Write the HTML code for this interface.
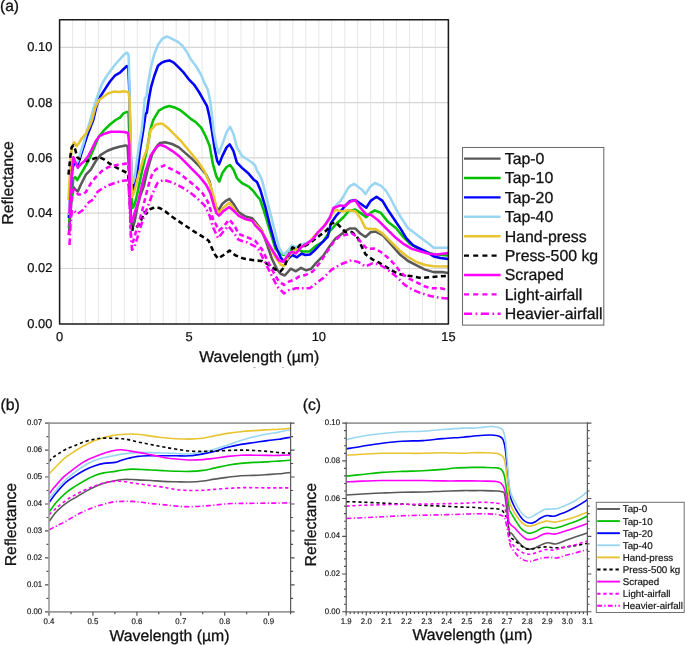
<!DOCTYPE html>
<html><head><meta charset="utf-8"><title>Reflectance spectra</title>
<style>
html,body{margin:0;padding:0;background:#fff;}
body{width:685px;height:645px;overflow:hidden;}
svg{display:block;font-family:"Liberation Sans", sans-serif;} text{fill:#111;stroke:#111;}
svg{will-change:transform;text-rendering:geometricPrecision;}
</style></head><body>
<svg width="685" height="645" viewBox="0 0 685 645">
<defs>
<clipPath id="clipa"><rect x="59.6" y="19.8" width="388.8" height="304"/></clipPath>
<clipPath id="clipb"><rect x="49" y="423" width="241.6" height="189"/></clipPath>
<clipPath id="clipc"><rect x="346.2" y="423" width="241.2" height="189"/></clipPath>
</defs>
<path d="M72.5 19.8 V323.9 M85.4 19.8 V323.9 M98.4 19.8 V323.9 M111.4 19.8 V323.9 M124.3 19.8 V323.9 M137.3 19.8 V323.9 M150.2 19.8 V323.9 M163.2 19.8 V323.9 M176.2 19.8 V323.9 M189.1 19.8 V323.9 M202.1 19.8 V323.9 M215.1 19.8 V323.9 M228.0 19.8 V323.9 M241.0 19.8 V323.9 M253.9 19.8 V323.9 M266.9 19.8 V323.9 M279.9 19.8 V323.9 M292.8 19.8 V323.9 M305.8 19.8 V323.9 M318.8 19.8 V323.9 M331.7 19.8 V323.9 M344.7 19.8 V323.9 M357.7 19.8 V323.9 M370.6 19.8 V323.9 M383.6 19.8 V323.9 M396.5 19.8 V323.9 M409.5 19.8 V323.9 M422.5 19.8 V323.9 M435.4 19.8 V323.9" stroke="#e9e9e9" stroke-width="1.1" fill="none"/>
<path d="M59.6 268.5 H448.4 M59.6 213.2 H448.4 M59.6 157.9 H448.4 M59.6 102.6 H448.4 M59.6 47.3 H448.4" stroke="#d6d6d6" stroke-width="1.2" fill="none"/>
<g clip-path="url(#clipa)"><path d="M68.8 235.0 L71.0 205.0 L73.4 187.0 L75.3 189.5 L77.8 191.4 L80.9 184.5 L85.9 174.6 L90.8 169.6 L95.8 161.0 L100.8 154.8 L107.0 151.0 L113.2 148.5 L119.4 146.7 L125.6 145.4 L127.6 146.0 L129.0 170.0 L130.5 210.0 L132.0 229.6 L134.5 222.0 L137.5 206.4 L140.5 195.0 L143.7 186.6 L148.0 167.9 L152.2 154.2 L157.3 145.7 L160.0 143.0 L165.2 142.3 L172.1 144.0 L178.9 147.4 L185.7 153.4 L192.5 159.3 L199.3 166.2 L206.2 174.7 L209.6 181.5 L213.0 196.9 L216.4 207.9 L218.4 210.5 L222.4 203.7 L226.6 200.3 L229.5 198.9 L233.4 203.7 L238.6 212.2 L245.4 216.5 L252.2 218.2 L255.0 221.6 L261.8 230.3 L266.9 244.0 L272.1 259.3 L277.2 269.6 L280.6 273.8 L284.8 275.5 L290.8 268.7 L295.9 271.3 L301.0 267.9 L306.2 270.4 L311.3 268.7 L316.4 262.7 L323.2 255.9 L330.0 245.7 L335.1 238.9 L342.0 233.8 L345.0 231.0 L350.1 228.4 L355.2 228.4 L360.3 233.5 L365.5 237.0 L370.6 232.3 L375.7 231.5 L382.5 235.0 L391.0 244.5 L399.6 254.2 L408.1 261.0 L416.6 265.3 L425.1 269.6 L433.7 272.1 L442.2 272.1 L448.2 273.0" fill="none" stroke="#595959" stroke-width="2.55" stroke-linejoin="round" stroke-linecap="butt" />
<path d="M68.8 228.0 L71.0 200.0 L73.4 178.3 L75.3 177.1 L77.2 180.2 L79.7 175.9 L83.4 169.6 L88.3 161.0 L93.3 149.8 L98.3 137.4 L103.2 131.2 L109.4 125.0 L115.6 120.0 L120.0 117.6 L123.1 113.7 L127.0 111.9 L128.5 112.5 L129.5 140.0 L131.0 190.0 L132.5 208.0 L134.5 205.0 L137.0 195.0 L142.0 171.3 L147.1 149.1 L150.2 130.0 L153.3 119.9 L158.8 110.6 L164.2 107.5 L169.3 106.0 L175.5 107.8 L180.6 110.4 L185.7 114.6 L190.8 118.9 L195.9 122.3 L201.0 127.4 L205.3 135.5 L209.6 145.7 L213.0 164.5 L216.4 176.4 L219.3 181.5 L222.4 173.0 L226.6 167.0 L230.0 165.0 L233.4 169.6 L236.9 178.1 L242.0 183.2 L248.8 186.6 L253.9 191.7 L257.0 196.0 L260.1 199.5 L265.2 214.8 L270.3 231.9 L275.5 248.9 L279.7 253.2 L284.0 255.0 L289.1 250.0 L295.9 248.9 L302.7 251.5 L309.6 251.5 L316.4 245.5 L323.2 241.5 L330.0 231.0 L336.9 223.3 L343.7 217.0 L348.4 211.2 L355.2 209.5 L360.3 212.9 L366.3 217.1 L370.6 212.9 L374.8 210.3 L380.8 212.9 L387.6 221.4 L396.2 228.2 L403.0 236.7 L409.8 243.6 L418.3 248.7 L426.9 252.1 L435.4 254.6 L448.2 255.5" fill="none" stroke="#00c000" stroke-width="2.55" stroke-linejoin="round" stroke-linecap="butt" />
<path d="M68.8 218.0 L70.5 192.0 L72.5 168.0 L74.7 162.2 L77.8 164.1 L80.3 157.2 L83.4 147.3 L87.1 136.1 L90.8 126.2 L93.3 120.0 L96.5 106.3 L100.0 97.0 L105.5 88.4 L110.0 81.5 L115.2 75.3 L120.0 72.6 L123.1 69.5 L127.0 66.0 L128.3 67.0 L129.3 90.0 L130.5 150.0 L131.8 180.0 L132.8 189.4 L134.5 186.0 L137.0 175.0 L140.0 150.0 L143.3 130.0 L145.6 113.7 L146.8 113.0 L148.7 99.8 L151.0 87.4 L154.1 76.5 L158.0 65.7 L161.9 62.6 L165.2 61.3 L169.5 60.4 L173.8 62.6 L178.9 67.7 L184.0 72.9 L189.1 79.7 L194.2 84.8 L199.3 92.5 L203.6 100.1 L207.0 106.1 L209.6 117.2 L212.1 132.0 L214.7 149.1 L217.2 161.0 L219.0 164.5 L222.4 155.9 L226.6 147.4 L229.7 144.3 L233.4 150.8 L236.9 162.7 L242.0 167.9 L248.8 173.8 L253.9 179.8 L257.0 182.0 L260.1 189.2 L265.2 206.3 L270.3 226.7 L275.5 245.5 L280.6 257.5 L285.3 263.0 L288.6 258.3 L292.3 255.0 L297.0 257.3 L301.6 253.6 L305.3 255.0 L310.0 254.5 L313.7 251.3 L320.2 244.3 L327.7 236.9 L330.9 223.3 L336.9 214.8 L342.0 209.7 L345.0 206.0 L350.1 200.9 L355.2 200.1 L360.3 203.5 L366.3 207.7 L370.6 200.9 L376.5 196.7 L382.5 200.9 L387.6 209.5 L394.5 219.7 L401.3 229.9 L406.4 238.4 L413.2 245.3 L420.0 248.7 L426.9 252.1 L433.7 256.4 L440.5 258.1 L448.2 258.9" fill="none" stroke="#0000ff" stroke-width="2.55" stroke-linejoin="round" stroke-linecap="butt" />
<path d="M68.8 215.0 L70.2 190.0 L72.0 165.0 L74.0 160.0 L76.5 163.0 L78.5 160.0 L80.3 153.5 L83.4 143.6 L86.5 132.4 L89.6 122.5 L94.1 106.3 L98.0 94.5 L102.2 83.5 L107.0 75.5 L112.0 68.8 L116.0 63.5 L119.3 59.9 L123.9 54.8 L127.0 52.5 L128.5 55.0 L129.3 76.0 L130.3 130.0 L131.5 170.0 L132.8 183.0 L134.5 178.0 L137.0 160.0 L140.0 140.0 L141.7 130.0 L143.3 115.3 L144.8 98.2 L146.4 96.7 L147.9 84.3 L151.0 67.2 L154.1 54.8 L158.0 44.7 L162.6 38.5 L167.0 36.5 L172.1 38.8 L177.2 41.3 L182.3 45.6 L186.5 51.5 L190.8 59.2 L195.9 66.0 L201.0 74.6 L204.5 83.1 L207.9 89.9 L210.4 101.9 L212.1 117.2 L213.8 132.0 L216.4 145.7 L219.0 153.4 L222.4 144.0 L226.6 132.1 L230.0 126.9 L233.4 133.8 L236.9 147.4 L242.0 155.9 L247.1 159.3 L252.2 162.7 L255.0 165.3 L257.3 171.3 L260.1 175.6 L262.4 181.5 L265.2 192.6 L270.3 213.1 L275.5 233.6 L278.9 247.2 L282.3 253.2 L284.8 254.0 L288.3 250.6 L291.7 245.5 L295.9 247.2 L301.0 244.6 L306.2 242.9 L311.3 240.4 L316.4 235.3 L323.2 228.4 L330.0 216.5 L335.1 206.3 L340.3 201.2 L343.7 196.0 L347.9 188.4 L350.1 186.0 L354.4 183.9 L358.6 187.3 L362.1 189.8 L365.5 194.1 L369.7 187.3 L374.8 183.0 L380.8 185.6 L385.9 190.7 L391.0 199.2 L396.2 209.5 L401.3 218.0 L408.1 228.2 L414.9 233.3 L421.7 238.4 L428.6 243.6 L433.7 247.8 L440.5 247.8 L448.2 247.8" fill="none" stroke="#99d6f2" stroke-width="2.55" stroke-linejoin="round" stroke-linecap="butt" />
<path d="M68.5 200.0 L69.5 180.0 L71.0 155.0 L72.2 146.1 L74.1 142.3 L76.5 146.1 L79.0 143.0 L82.1 138.0 L85.9 133.7 L89.6 126.2 L92.1 120.0 L95.7 106.3 L99.0 100.0 L103.8 96.5 L108.0 93.5 L113.6 91.6 L120.0 92.0 L123.1 91.2 L128.5 92.0 L129.6 100.0 L130.5 150.0 L131.5 185.0 L132.0 197.0 L134.0 193.0 L136.0 185.0 L138.6 174.7 L143.7 157.6 L147.1 149.1 L150.5 130.3 L155.7 124.6 L161.1 123.5 L163.5 124.4 L168.6 128.6 L173.8 133.8 L180.6 140.6 L189.1 150.8 L197.6 161.0 L204.5 171.3 L209.6 183.2 L213.8 196.9 L217.2 210.5 L219.0 213.1 L223.2 207.9 L229.2 202.8 L233.4 207.9 L238.6 215.6 L245.4 219.0 L252.2 220.7 L255.0 223.5 L261.8 231.0 L268.6 244.0 L275.5 257.6 L280.6 264.5 L284.0 266.2 L289.1 255.9 L294.2 250.8 L301.0 247.4 L307.9 244.0 L314.7 235.5 L323.2 227.5 L330.0 218.0 L335.1 209.7 L342.0 211.4 L348.4 210.3 L355.2 211.2 L360.3 218.0 L365.5 228.2 L370.6 229.1 L375.7 229.1 L382.5 233.3 L391.0 241.9 L399.6 250.4 L408.1 257.2 L416.6 262.0 L425.1 265.0 L433.7 266.2 L448.2 266.4" fill="none" stroke="#e8c430" stroke-width="2.55" stroke-linejoin="round" stroke-linecap="butt" />
<path d="M68.5 174.6 L70.3 157.2 L71.6 147.3 L73.4 145.4 L75.3 149.8 L77.2 157.2 L79.7 159.1 L83.4 159.7 L87.1 161.0 L90.8 159.7 L95.8 157.9 L99.5 157.2 L104.5 159.7 L109.4 163.4 L115.6 167.2 L121.9 170.3 L126.8 172.7 L128.1 174.6 L129.5 195.0 L131.0 220.0 L132.8 229.6 L135.5 228.0 L139.2 224.5 L142.0 218.0 L144.5 212.0 L146.5 213.5 L149.4 209.5 L153.1 208.0 L156.8 207.1 L160.6 208.5 L165.2 211.3 L172.1 216.8 L182.3 223.6 L192.5 230.5 L201.0 235.6 L208.7 240.7 L211.3 246.7 L214.7 254.3 L218.1 258.6 L223.2 255.2 L229.5 250.6 L235.2 255.2 L243.7 258.6 L253.9 260.3 L261.8 261.0 L268.6 264.5 L275.5 269.6 L280.6 271.3 L284.8 266.2 L288.3 255.9 L292.5 247.4 L296.8 249.1 L300.2 244.8 L305.0 246.0 L313.0 240.6 L319.8 235.5 L326.6 230.3 L331.7 223.5 L336.0 222.5 L340.3 226.9 L345.4 232.1 L351.8 232.1 L356.9 236.3 L362.1 247.4 L365.5 254.2 L372.3 259.3 L379.1 262.7 L387.6 267.9 L396.2 273.0 L404.7 275.5 L413.2 276.4 L421.7 278.1 L430.3 277.2 L438.8 276.4 L448.2 276.0" fill="none" stroke="#000000" stroke-width="2.55" stroke-linejoin="round" stroke-linecap="butt" stroke-dasharray="5 3.4"/>
<path d="M69.4 213.7 L70.5 195.0 L71.6 175.9 L73.4 157.2 L75.3 162.2 L77.8 167.8 L80.9 164.1 L84.6 161.0 L88.3 156.0 L92.1 148.5 L95.8 141.1 L99.5 136.1 L104.5 133.7 L110.7 131.8 L118.1 131.8 L124.3 132.0 L128.1 133.0 L129.3 145.0 L129.9 200.0 L130.5 217.0 L132.0 222.0 L134.0 215.0 L138.6 200.3 L142.0 185.0 L145.4 171.3 L150.5 155.9 L155.0 149.1 L157.3 146.5 L160.1 144.8 L165.2 146.5 L172.1 150.8 L178.9 155.9 L185.7 162.7 L192.5 169.6 L199.3 176.4 L206.2 184.9 L210.4 193.4 L213.8 205.4 L216.4 213.1 L219.0 215.6 L223.2 211.3 L229.2 207.1 L233.4 210.5 L238.6 215.6 L245.4 219.0 L252.2 220.7 L255.0 225.2 L261.8 232.1 L268.6 244.0 L273.8 252.5 L278.9 260.2 L283.1 261.9 L287.4 255.9 L291.7 251.7 L295.9 253.4 L301.0 247.4 L307.9 242.9 L313.0 238.9 L318.1 232.1 L324.9 225.2 L330.0 217.5 L333.4 208.0 L340.3 205.4 L345.0 206.0 L350.1 201.8 L355.2 200.1 L360.3 207.7 L366.3 214.6 L370.6 214.6 L377.4 219.7 L385.9 228.2 L394.5 236.7 L403.0 243.6 L411.5 248.7 L420.0 251.2 L428.6 253.8 L437.1 254.6 L448.2 252.9" fill="none" stroke="#ff00ff" stroke-width="2.55" stroke-linejoin="round" stroke-linecap="butt" />
<path d="M69.0 235.0 L71.0 205.0 L73.4 189.5 L75.9 192.0 L78.4 194.5 L82.1 194.5 L85.9 192.0 L90.8 183.3 L95.8 177.1 L102.0 170.9 L108.2 167.2 L115.6 165.3 L123.1 164.1 L128.1 163.4 L129.5 185.0 L130.5 225.0 L131.3 240.4 L133.0 242.0 L137.5 226.5 L142.1 211.0 L146.7 192.0 L150.0 180.0 L153.0 172.0 L159.0 167.0 L162.7 166.2 L164.1 165.3 L170.3 168.7 L178.9 173.0 L187.4 179.8 L195.9 186.6 L202.7 193.4 L207.9 202.0 L211.3 212.2 L213.8 222.4 L215.5 223.6 L219.0 230.5 L223.2 227.1 L229.2 219.4 L234.3 225.3 L238.6 233.9 L247.1 237.3 L255.0 240.6 L261.8 249.1 L268.6 262.7 L273.8 273.0 L278.9 281.5 L284.0 284.9 L289.1 281.5 L294.2 279.8 L299.3 276.4 L306.2 274.7 L313.0 271.3 L319.8 262.7 L326.6 252.5 L333.4 242.3 L340.3 235.5 L345.0 235.0 L351.8 233.5 L356.9 236.5 L362.1 243.8 L367.2 248.9 L374.0 248.5 L380.8 251.9 L387.6 257.4 L394.5 264.3 L401.3 273.0 L408.1 278.1 L416.6 282.4 L425.1 286.6 L432.0 288.3 L440.5 288.3 L448.2 290.0" fill="none" stroke="#ff00ff" stroke-width="2.55" stroke-linejoin="round" stroke-linecap="butt" stroke-dasharray="5 3.4"/>
<path d="M69.5 245.0 L70.5 225.0 L72.0 210.0 L73.8 210.5 L77.2 213.9 L82.3 210.5 L89.1 202.0 L93.3 199.4 L97.6 191.7 L100.8 189.5 L107.0 185.8 L115.6 182.7 L123.1 180.8 L128.1 180.2 L129.5 200.0 L130.8 235.0 L132.0 249.7 L134.0 248.0 L137.5 237.3 L143.7 217.0 L149.1 203.3 L152.0 195.0 L157.3 183.2 L163.5 179.8 L172.1 182.4 L180.6 186.6 L189.1 191.7 L197.6 198.6 L204.5 205.4 L209.6 215.6 L213.0 227.1 L218.1 238.1 L223.0 232.0 L228.3 226.2 L233.4 232.2 L238.6 239.8 L247.1 242.4 L255.6 246.7 L258.4 249.1 L265.2 262.7 L272.1 276.4 L277.2 286.6 L284.0 293.4 L289.1 290.0 L295.9 288.3 L302.7 288.3 L309.6 288.3 L316.4 283.2 L323.2 278.1 L331.7 269.6 L340.3 264.5 L347.1 261.9 L351.8 260.2 L358.6 262.2 L365.5 266.5 L372.3 263.4 L379.1 264.3 L387.6 269.6 L396.2 276.4 L404.7 284.9 L413.2 290.0 L421.7 293.4 L430.3 296.0 L438.8 297.7 L448.2 298.6" fill="none" stroke="#ff00ff" stroke-width="2.55" stroke-linejoin="round" stroke-linecap="butt" stroke-dasharray="6.6 3 1.6 3"/></g>
<rect x="59.6" y="19.8" width="388.8" height="304.1" fill="none" stroke="#1a1a1a" stroke-width="1.55" stroke-linejoin="round"/>
<text x="52.4" y="327.7" font-size="12.90" text-anchor="end" stroke-width="0.24" >0.00</text>
<text x="52.4" y="272.4" font-size="12.90" text-anchor="end" stroke-width="0.24" >0.02</text>
<text x="52.4" y="217.1" font-size="12.90" text-anchor="end" stroke-width="0.24" >0.04</text>
<text x="52.4" y="161.8" font-size="12.90" text-anchor="end" stroke-width="0.24" >0.06</text>
<text x="52.4" y="106.5" font-size="12.90" text-anchor="end" stroke-width="0.24" >0.08</text>
<text x="52.4" y="51.2" font-size="12.90" text-anchor="end" stroke-width="0.24" >0.10</text>
<text x="59.5" y="340.6" font-size="12.90" text-anchor="middle" stroke-width="0.24" >0</text>
<text x="189.1" y="340.6" font-size="12.90" text-anchor="middle" stroke-width="0.24" >5</text>
<text x="318.8" y="340.6" font-size="12.90" text-anchor="middle" stroke-width="0.24" >10</text>
<text x="448.4" y="340.6" font-size="12.90" text-anchor="middle" stroke-width="0.24" >15</text>
<text x="259.3" y="362.1" font-size="15.80" text-anchor="middle" stroke-width="0.30" >Wavelength (µm)</text>
<text x="0.0" y="0.0" font-size="15.80" text-anchor="middle" stroke-width="0.30" transform="translate(13.2 183) rotate(-90)">Reflectance</text>
<text x="0.0" y="11.4" font-size="15.60" text-anchor="start" stroke-width="0.29" >(a)</text>
<rect x="462.5" y="147.5" width="141.3" height="177.6" fill="#fff" stroke="#707070" stroke-width="1.1"/>
<path d="M464 158.6 H500.6" stroke="#595959" stroke-width="2.4" />
<text x="504.8" y="164.0" font-size="15.85" text-anchor="start" stroke-width="0.30" >Tap-0</text>
<path d="M464 178.0 H500.6" stroke="#00c000" stroke-width="2.4" />
<text x="504.8" y="183.4" font-size="15.85" text-anchor="start" stroke-width="0.30" >Tap-10</text>
<path d="M464 197.4 H500.6" stroke="#0000ff" stroke-width="2.4" />
<text x="504.8" y="202.8" font-size="15.85" text-anchor="start" stroke-width="0.30" >Tap-20</text>
<path d="M464 216.8 H500.6" stroke="#99d6f2" stroke-width="2.4" />
<text x="504.8" y="222.2" font-size="15.85" text-anchor="start" stroke-width="0.30" >Tap-40</text>
<path d="M464 236.2 H500.6" stroke="#e8c430" stroke-width="2.4" />
<text x="504.8" y="241.6" font-size="15.85" text-anchor="start" stroke-width="0.30" >Hand-press</text>
<path d="M464 255.6 H500.6" stroke="#000000" stroke-width="2.4" stroke-dasharray="5 4.2"/>
<text x="504.8" y="261.0" font-size="15.85" text-anchor="start" stroke-width="0.30" >Press-500 kg</text>
<path d="M464 275.0 H500.6" stroke="#ff00ff" stroke-width="2.4" />
<text x="504.8" y="280.4" font-size="15.85" text-anchor="start" stroke-width="0.30" >Scraped</text>
<path d="M464 294.4 H500.6" stroke="#ff00ff" stroke-width="2.4" stroke-dasharray="5 4.2"/>
<text x="504.8" y="299.8" font-size="15.85" text-anchor="start" stroke-width="0.30" >Light-airfall</text>
<path d="M464 313.8 H500.6" stroke="#ff00ff" stroke-width="2.4" stroke-dasharray="8.1 3.5 1.7 3.5"/>
<text x="504.8" y="319.2" font-size="15.85" text-anchor="start" stroke-width="0.30" >Heavier-airfall</text>
<path d="M253 367.6h3 M282 367.6h2 M315 367.6h1.5" stroke="#bbb" stroke-width="1"/>
<g clip-path="url(#clipb)"><path d="M49.2 521.3 C50.40 519.72 53.62 514.80 56.4 511.8 C59.18 508.80 62.73 505.67 65.9 503.3 C69.07 500.93 72.23 499.50 75.4 497.6 C78.57 495.70 81.75 493.65 84.9 491.9 C88.05 490.15 91.15 488.53 94.3 487.1 C97.45 485.67 100.63 484.32 103.8 483.3 C106.97 482.28 110.13 481.63 113.3 481.0 C116.47 480.37 119.63 479.75 122.8 479.5 C125.97 479.25 129.13 479.40 132.3 479.5 C135.47 479.60 138.63 479.93 141.8 480.1 C144.97 480.27 147.82 480.28 151.3 480.5 C154.78 480.72 158.52 481.18 162.7 481.4 C166.88 481.62 171.90 481.70 176.4 481.8 C180.90 481.90 185.27 482.13 189.7 482.0 C194.13 481.87 198.90 481.48 203.0 481.0 C207.10 480.52 210.20 479.72 214.3 479.1 C218.40 478.48 223.17 477.87 227.6 477.3 C232.03 476.73 236.47 476.02 240.9 475.7 C245.33 475.38 249.77 475.58 254.2 475.4 C258.63 475.22 263.38 474.87 267.5 474.6 C271.62 474.33 275.10 474.15 278.9 473.8 C282.70 473.45 288.40 472.72 290.3 472.5" fill="none" stroke="#595959" stroke-width="1.60" stroke-linejoin="round" stroke-linecap="butt" />
<path d="M49.2 511.8 C50.40 510.22 53.62 505.47 56.4 502.3 C59.18 499.13 62.73 495.48 65.9 492.8 C69.07 490.12 72.23 488.25 75.4 486.2 C78.57 484.15 81.75 482.25 84.9 480.5 C88.05 478.75 91.15 476.97 94.3 475.7 C97.45 474.43 100.63 473.58 103.8 472.9 C106.97 472.22 110.13 472.08 113.3 471.6 C116.47 471.12 119.63 470.42 122.8 470.0 C125.97 469.58 129.13 469.18 132.3 469.1 C135.47 469.02 138.63 469.35 141.8 469.5 C144.97 469.65 147.82 469.82 151.3 470.0 C154.78 470.18 158.52 470.40 162.7 470.6 C166.88 470.80 171.90 471.07 176.4 471.2 C180.90 471.33 185.27 471.53 189.7 471.4 C194.13 471.27 198.90 470.95 203.0 470.4 C207.10 469.85 210.20 468.95 214.3 468.1 C218.40 467.25 223.17 466.08 227.6 465.3 C232.03 464.52 236.47 463.88 240.9 463.4 C245.33 462.92 249.77 462.65 254.2 462.4 C258.63 462.15 263.38 462.12 267.5 461.9 C271.62 461.68 275.10 461.38 278.9 461.1 C282.70 460.82 288.40 460.35 290.3 460.2" fill="none" stroke="#00c000" stroke-width="1.60" stroke-linejoin="round" stroke-linecap="butt" />
<path d="M49.2 502.3 C50.40 500.72 53.62 496.12 56.4 492.8 C59.18 489.48 62.73 485.25 65.9 482.4 C69.07 479.55 72.23 477.77 75.4 475.7 C78.57 473.63 81.75 471.63 84.9 470.0 C88.05 468.37 91.15 467.00 94.3 465.9 C97.45 464.80 100.32 463.98 103.8 463.4 C107.28 462.82 112.35 462.88 115.2 462.4 C118.05 461.92 118.68 461.18 120.9 460.5 C123.12 459.82 125.65 458.98 128.5 458.3 C131.35 457.62 134.52 456.82 138.0 456.4 C141.48 455.98 145.60 455.90 149.4 455.8 C153.20 455.70 158.20 455.80 160.8 455.8 C163.40 455.80 162.40 455.80 165.0 455.8 C167.60 455.80 172.28 455.80 176.4 455.8 C180.52 455.80 185.27 456.12 189.7 455.8 C194.13 455.48 198.90 454.63 203.0 453.9 C207.10 453.17 210.20 452.50 214.3 451.4 C218.40 450.30 223.17 448.47 227.6 447.3 C232.03 446.13 236.47 445.20 240.9 444.4 C245.33 443.60 249.77 443.13 254.2 442.5 C258.63 441.87 263.38 441.13 267.5 440.6 C271.62 440.07 275.10 439.87 278.9 439.3 C282.70 438.73 288.40 437.55 290.3 437.2" fill="none" stroke="#0000ff" stroke-width="1.60" stroke-linejoin="round" stroke-linecap="butt" />
<path d="M49.2 498.5 C50.40 497.08 53.62 493.17 56.4 490.0 C59.18 486.83 62.73 482.52 65.9 479.5 C69.07 476.48 72.23 474.27 75.4 471.9 C78.57 469.53 81.75 467.20 84.9 465.3 C88.05 463.40 91.15 461.77 94.3 460.5 C97.45 459.23 100.63 458.48 103.8 457.7 C106.97 456.92 110.13 456.43 113.3 455.8 C116.47 455.17 119.63 454.37 122.8 453.9 C125.97 453.43 129.13 453.25 132.3 453.0 C135.47 452.75 138.63 452.47 141.8 452.4 C144.97 452.33 148.13 452.50 151.3 452.6 C154.47 452.70 158.52 452.93 160.8 453.0 C163.08 453.07 162.40 452.92 165.0 453.0 C167.60 453.08 172.28 453.35 176.4 453.5 C180.52 453.65 185.27 454.15 189.7 453.9 C194.13 453.65 198.90 452.78 203.0 452.0 C207.10 451.22 210.20 450.37 214.3 449.2 C218.40 448.03 223.17 446.43 227.6 445.0 C232.03 443.57 236.47 441.97 240.9 440.6 C245.33 439.23 249.77 437.90 254.2 436.8 C258.63 435.70 263.38 434.78 267.5 434.0 C271.62 433.22 275.10 432.80 278.9 432.1 C282.70 431.40 288.40 430.18 290.3 429.8" fill="none" stroke="#99d6f2" stroke-width="1.60" stroke-linejoin="round" stroke-linecap="butt" />
<path d="M49.2 473.8 C50.40 472.53 53.93 468.72 56.4 466.2 C58.87 463.68 61.15 461.07 64.0 458.7 C66.85 456.33 70.33 454.07 73.5 452.0 C76.67 449.93 79.85 448.03 83.0 446.3 C86.15 444.57 89.25 442.95 92.4 441.6 C95.55 440.25 98.73 439.15 101.9 438.2 C105.07 437.25 108.23 436.52 111.4 435.9 C114.57 435.28 117.73 434.82 120.9 434.5 C124.07 434.18 127.23 434.00 130.4 434.0 C133.57 434.00 136.73 434.18 139.9 434.5 C143.07 434.82 146.23 435.45 149.4 435.9 C152.57 436.35 156.30 436.88 158.9 437.2 C161.50 437.52 162.08 437.55 165.0 437.8 C167.92 438.05 172.28 438.48 176.4 438.7 C180.52 438.92 185.27 439.18 189.7 439.1 C194.13 439.02 198.90 438.73 203.0 438.2 C207.10 437.67 210.20 436.70 214.3 435.9 C218.40 435.10 223.17 434.10 227.6 433.4 C232.03 432.70 236.47 432.17 240.9 431.7 C245.33 431.23 249.77 430.92 254.2 430.6 C258.63 430.28 263.38 430.03 267.5 429.8 C271.62 429.57 275.10 429.45 278.9 429.2 C282.70 428.95 288.40 428.45 290.3 428.3" fill="none" stroke="#e8c430" stroke-width="1.60" stroke-linejoin="round" stroke-linecap="butt" />
<path d="M49.2 461.5 C49.77 460.87 51.08 458.97 52.6 457.7 C54.12 456.43 56.08 455.32 58.3 453.9 C60.52 452.48 63.05 450.62 65.9 449.2 C68.75 447.78 72.23 446.67 75.4 445.4 C78.57 444.13 81.75 442.62 84.9 441.6 C88.05 440.58 91.47 439.87 94.3 439.3 C97.13 438.73 99.05 438.38 101.9 438.2 C104.75 438.02 108.23 438.12 111.4 438.2 C114.57 438.28 118.37 438.52 120.9 438.7 C123.43 438.88 124.07 438.82 126.6 439.3 C129.13 439.78 132.93 440.90 136.1 441.6 C139.27 442.30 142.43 442.87 145.6 443.5 C148.77 444.13 151.87 444.77 155.1 445.4 C158.33 446.03 161.45 446.67 165.0 447.3 C168.55 447.93 172.28 448.57 176.4 449.2 C180.52 449.83 185.27 450.73 189.7 451.1 C194.13 451.47 198.90 451.40 203.0 451.4 C207.10 451.40 210.20 451.25 214.3 451.1 C218.40 450.95 223.17 450.67 227.6 450.5 C232.03 450.33 236.47 450.10 240.9 450.1 C245.33 450.10 249.77 450.28 254.2 450.5 C258.63 450.72 263.38 451.05 267.5 451.4 C271.62 451.75 275.10 452.28 278.9 452.6 C282.70 452.92 288.40 453.18 290.3 453.3" fill="none" stroke="#000000" stroke-width="1.60" stroke-linejoin="round" stroke-linecap="butt" stroke-dasharray="3.20 2.80"/>
<path d="M49.2 493.8 C50.08 492.68 52.03 489.95 54.5 487.1 C56.97 484.25 60.83 479.70 64.0 476.7 C67.17 473.70 70.33 471.48 73.5 469.1 C76.67 466.72 79.85 464.30 83.0 462.4 C86.15 460.50 89.25 459.12 92.4 457.7 C95.55 456.28 98.73 455.00 101.9 453.9 C105.07 452.80 108.23 451.80 111.4 451.1 C114.57 450.40 117.73 449.70 120.9 449.7 C124.07 449.70 127.23 450.62 130.4 451.1 C133.57 451.58 136.73 452.03 139.9 452.6 C143.07 453.17 146.23 453.87 149.4 454.5 C152.57 455.13 156.30 455.87 158.9 456.4 C161.50 456.93 162.08 457.27 165.0 457.7 C167.92 458.13 172.28 458.62 176.4 459.0 C180.52 459.38 185.27 459.90 189.7 460.0 C194.13 460.10 198.90 459.88 203.0 459.6 C207.10 459.32 210.20 458.83 214.3 458.3 C218.40 457.77 223.17 456.92 227.6 456.4 C232.03 455.88 236.47 455.40 240.9 455.2 C245.33 455.00 249.77 455.17 254.2 455.2 C258.63 455.23 263.38 455.37 267.5 455.4 C271.62 455.43 275.10 455.48 278.9 455.4 C282.70 455.32 288.40 454.98 290.3 454.9" fill="none" stroke="#ff00ff" stroke-width="1.60" stroke-linejoin="round" stroke-linecap="butt" />
<path d="M49.2 514.6 C50.40 513.50 53.62 510.37 56.4 508.0 C59.18 505.63 62.73 502.62 65.9 500.4 C69.07 498.18 72.23 496.43 75.4 494.7 C78.57 492.97 81.75 491.42 84.9 490.0 C88.05 488.58 91.15 487.38 94.3 486.2 C97.45 485.02 100.63 483.70 103.8 482.9 C106.97 482.10 110.13 481.65 113.3 481.4 C116.47 481.15 119.63 481.15 122.8 481.4 C125.97 481.65 129.13 482.42 132.3 482.9 C135.47 483.38 138.63 483.85 141.8 484.3 C144.97 484.75 147.82 485.13 151.3 485.6 C154.78 486.07 158.52 486.43 162.7 487.1 C166.88 487.77 171.90 489.03 176.4 489.6 C180.90 490.17 185.27 490.38 189.7 490.5 C194.13 490.62 198.90 490.48 203.0 490.3 C207.10 490.12 210.20 489.72 214.3 489.4 C218.40 489.08 223.17 488.68 227.6 488.4 C232.03 488.12 236.47 487.82 240.9 487.7 C245.33 487.58 249.77 487.67 254.2 487.7 C258.63 487.73 263.38 487.87 267.5 487.9 C271.62 487.93 275.10 487.90 278.9 487.9 C282.70 487.90 288.40 487.90 290.3 487.9" fill="none" stroke="#ff00ff" stroke-width="1.60" stroke-linejoin="round" stroke-linecap="butt" stroke-dasharray="3.20 2.80"/>
<path d="M49.2 529.8 C50.40 529.17 53.62 527.42 56.4 526.0 C59.18 524.58 62.73 523.03 65.9 521.3 C69.07 519.57 72.23 517.35 75.4 515.6 C78.57 513.85 81.75 512.23 84.9 510.8 C88.05 509.37 91.15 508.10 94.3 507.0 C97.45 505.90 100.63 505.05 103.8 504.2 C106.97 503.35 110.13 502.37 113.3 501.9 C116.47 501.43 119.63 501.48 122.8 501.4 C125.97 501.32 129.13 501.25 132.3 501.4 C135.47 501.55 138.63 501.93 141.8 502.3 C144.97 502.67 147.82 503.22 151.3 503.6 C154.78 503.98 158.52 504.18 162.7 504.6 C166.88 505.02 171.90 505.75 176.4 506.1 C180.90 506.45 185.27 506.70 189.7 506.7 C194.13 506.70 198.90 506.37 203.0 506.1 C207.10 505.83 210.20 505.48 214.3 505.1 C218.40 504.72 223.17 504.08 227.6 503.8 C232.03 503.52 236.47 503.48 240.9 503.4 C245.33 503.32 249.77 503.35 254.2 503.3 C258.63 503.25 263.38 503.13 267.5 503.1 C271.62 503.07 275.10 503.17 278.9 503.1 C282.70 503.03 288.40 502.77 290.3 502.7" fill="none" stroke="#ff00ff" stroke-width="1.60" stroke-linejoin="round" stroke-linecap="butt" stroke-dasharray="5.12 2.32 1.12 2.32"/></g>
<path d="M48.4 423.1 H291.2 M48.4 611.9 H291.2" stroke="#9a9a9a" stroke-width="1.7" fill="none"/>
<path d="M49.0 611.8 h-4.0 M290.6 611.8 h4.0 M49.0 598.3 h-2.5 M290.6 598.3 h2.5 M49.0 584.8 h-4.0 M290.6 584.8 h4.0 M49.0 571.4 h-2.5 M290.6 571.4 h2.5 M49.0 557.9 h-4.0 M290.6 557.9 h4.0 M49.0 544.4 h-2.5 M290.6 544.4 h2.5 M49.0 530.9 h-4.0 M290.6 530.9 h4.0 M49.0 517.5 h-2.5 M290.6 517.5 h2.5 M49.0 504.0 h-4.0 M290.6 504.0 h4.0 M49.0 490.5 h-2.5 M290.6 490.5 h2.5 M49.0 477.0 h-4.0 M290.6 477.0 h4.0 M49.0 463.5 h-2.5 M290.6 463.5 h2.5 M49.0 450.1 h-4.0 M290.6 450.1 h4.0 M49.0 436.6 h-2.5 M290.6 436.6 h2.5 M49.0 423.1 h-4.0 M290.6 423.1 h4.0 M49.0 611.9 v3.8 M71.0 611.9 v2.4 M92.9 611.9 v3.8 M114.9 611.9 v2.4 M136.9 611.9 v3.8 M158.8 611.9 v2.4 M180.8 611.9 v3.8 M202.7 611.9 v2.4 M224.7 611.9 v3.8 M246.7 611.9 v2.4 M268.6 611.9 v3.8 M290.6 611.9 v2.4" stroke="#505050" stroke-width="1.15" fill="none"/>
<path d="M49.0 422.3 V612.7" stroke="#9a9a9a" stroke-width="1.6" fill="none"/>
<path d="M290.6 422.3 V612.7" stroke="#5c5c5c" stroke-width="1.25" fill="none"/>
<text transform="translate(42.20 614.00) scale(0.950 1)" font-size="8.20" text-anchor="end" stroke-width="0.15" >0.00</text>
<text transform="translate(42.20 587.04) scale(0.950 1)" font-size="8.20" text-anchor="end" stroke-width="0.15" >0.01</text>
<text transform="translate(42.20 560.09) scale(0.950 1)" font-size="8.20" text-anchor="end" stroke-width="0.15" >0.02</text>
<text transform="translate(42.20 533.13) scale(0.950 1)" font-size="8.20" text-anchor="end" stroke-width="0.15" >0.03</text>
<text transform="translate(42.20 506.17) scale(0.950 1)" font-size="8.20" text-anchor="end" stroke-width="0.15" >0.04</text>
<text transform="translate(42.20 479.21) scale(0.950 1)" font-size="8.20" text-anchor="end" stroke-width="0.15" >0.05</text>
<text transform="translate(42.20 452.26) scale(0.950 1)" font-size="8.20" text-anchor="end" stroke-width="0.15" >0.06</text>
<text transform="translate(42.20 425.30) scale(0.950 1)" font-size="8.20" text-anchor="end" stroke-width="0.15" >0.07</text>
<text transform="translate(49.00 624.10) scale(0.960 1)" font-size="8.20" text-anchor="middle" stroke-width="0.15" >0.4</text>
<text transform="translate(92.93 624.10) scale(0.960 1)" font-size="8.20" text-anchor="middle" stroke-width="0.15" >0.5</text>
<text transform="translate(136.85 624.10) scale(0.960 1)" font-size="8.20" text-anchor="middle" stroke-width="0.15" >0.6</text>
<text transform="translate(180.78 624.10) scale(0.960 1)" font-size="8.20" text-anchor="middle" stroke-width="0.15" >0.7</text>
<text transform="translate(224.71 624.10) scale(0.960 1)" font-size="8.20" text-anchor="middle" stroke-width="0.15" >0.8</text>
<text transform="translate(268.64 624.10) scale(0.960 1)" font-size="8.20" text-anchor="middle" stroke-width="0.15" >0.9</text>
<text x="169.5" y="640.5" font-size="15.80" text-anchor="middle" stroke-width="0.30" >Wavelength (µm)</text>
<text x="0.0" y="0.0" font-size="15.80" text-anchor="middle" stroke-width="0.30" transform="translate(16.3 524.6) rotate(-90)">Reflectance</text>
<text x="0.4" y="410.0" font-size="15.80" text-anchor="start" stroke-width="0.30" >(b)</text>
<g clip-path="url(#clipc)"><path d="M346.4 495.0 C349.03 494.83 356.22 494.33 362.2 494.0 C368.18 493.67 375.58 493.30 382.3 493.0 C389.02 492.70 395.78 492.37 402.5 492.2 C409.22 492.03 415.88 492.17 422.6 492.0 C429.32 491.83 436.08 491.43 442.8 491.2 C449.52 490.97 458.02 490.70 462.9 490.6 C467.78 490.50 468.55 490.60 472.1 490.6 C475.65 490.60 480.17 490.53 484.2 490.6 C488.23 490.67 493.38 490.80 496.3 491.0 C499.22 491.20 500.32 491.23 501.7 491.8 C503.08 492.37 503.65 490.40 504.6 494.4 C505.55 498.40 506.67 509.72 507.4 515.8 C508.13 521.88 508.25 527.90 509.0 530.9 C509.75 533.90 510.45 532.10 511.9 533.8 C513.35 535.50 515.75 538.92 517.7 541.1 C519.65 543.28 521.65 545.57 523.6 546.9 C525.55 548.23 527.45 548.97 529.4 549.1 C531.35 549.23 533.10 548.50 535.3 547.7 C537.50 546.90 540.42 545.12 542.6 544.3 C544.78 543.48 546.22 542.85 548.4 542.8 C550.58 542.75 553.27 544.23 555.7 544.0 C558.13 543.77 560.32 542.37 563.0 541.4 C565.68 540.43 568.88 539.22 571.8 538.2 C574.72 537.18 577.88 536.20 580.5 535.3 C583.12 534.40 586.33 533.22 587.5 532.8" fill="none" stroke="#595959" stroke-width="1.60" stroke-linejoin="round" stroke-linecap="butt" />
<path d="M346.4 476.1 C349.03 475.83 356.22 475.12 362.2 474.5 C368.18 473.88 375.58 472.92 382.3 472.4 C389.02 471.88 395.78 471.67 402.5 471.4 C409.22 471.13 415.88 471.13 422.6 470.8 C429.32 470.47 437.42 469.87 442.8 469.4 C448.18 468.93 450.02 468.33 454.9 468.0 C459.78 467.67 467.22 467.50 472.1 467.4 C476.98 467.30 480.17 467.33 484.2 467.4 C488.23 467.47 493.45 467.47 496.3 467.8 C499.15 468.13 499.97 468.12 501.3 469.4 C502.63 470.68 503.28 471.13 504.3 475.5 C505.32 479.87 506.55 489.90 507.4 495.6 C508.25 501.30 508.90 506.98 509.4 509.7 C509.90 512.42 509.50 510.32 510.4 511.9 C511.30 513.48 513.08 516.52 514.8 519.2 C516.52 521.88 519.00 525.93 520.7 528.0 C522.40 530.07 523.55 530.70 525.0 531.6 C526.45 532.50 527.68 533.40 529.4 533.4 C531.12 533.40 533.35 532.43 535.3 531.6 C537.25 530.77 539.17 529.13 541.1 528.4 C543.03 527.67 544.72 527.23 546.9 527.2 C549.08 527.17 551.77 528.32 554.2 528.2 C556.63 528.08 558.82 527.32 561.5 526.5 C564.18 525.68 567.37 524.40 570.3 523.3 C573.23 522.20 576.23 521.12 579.1 519.9 C581.97 518.68 586.10 516.65 587.5 516.0" fill="none" stroke="#00c000" stroke-width="1.60" stroke-linejoin="round" stroke-linecap="butt" />
<path d="M346.4 448.9 C349.03 448.45 356.22 447.15 362.2 446.2 C368.18 445.25 375.58 444.03 382.3 443.2 C389.02 442.37 395.78 441.63 402.5 441.2 C409.22 440.77 415.88 441.03 422.6 440.6 C429.32 440.17 436.08 439.17 442.8 438.6 C449.52 438.03 458.02 437.60 462.9 437.2 C467.78 436.80 468.55 436.53 472.1 436.2 C475.65 435.87 480.50 435.37 484.2 435.2 C487.90 435.03 491.62 434.93 494.3 435.2 C496.98 435.47 498.80 435.97 500.3 436.8 C501.80 437.63 502.47 438.12 503.3 440.2 C504.13 442.28 504.62 444.43 505.3 449.3 C505.98 454.17 506.72 462.35 507.4 469.4 C508.08 476.45 508.90 486.95 509.4 491.6 C509.90 496.25 509.50 494.65 510.4 497.3 C511.30 499.95 513.08 504.22 514.8 507.5 C516.52 510.78 519.00 514.68 520.7 517.0 C522.40 519.32 523.30 520.35 525.0 521.4 C526.70 522.45 529.18 523.23 530.9 523.3 C532.62 523.37 533.60 522.73 535.3 521.8 C537.00 520.87 539.17 518.75 541.1 517.7 C543.03 516.65 544.95 515.73 546.9 515.5 C548.85 515.27 550.60 516.53 552.8 516.3 C555.00 516.07 557.67 514.95 560.1 514.1 C562.53 513.25 564.73 512.42 567.4 511.2 C570.07 509.98 573.43 508.27 576.1 506.8 C578.77 505.33 581.50 503.62 583.4 502.4 C585.30 501.18 586.82 499.98 587.5 499.5" fill="none" stroke="#0000ff" stroke-width="1.60" stroke-linejoin="round" stroke-linecap="butt" />
<path d="M346.4 439.6 C349.03 439.03 356.22 437.22 362.2 436.2 C368.18 435.18 375.58 434.25 382.3 433.5 C389.02 432.75 395.78 432.08 402.5 431.7 C409.22 431.32 415.88 431.57 422.6 431.2 C429.32 430.83 436.08 430.02 442.8 429.5 C449.52 428.98 458.02 428.33 462.9 428.1 C467.78 427.87 468.55 428.27 472.1 428.1 C475.65 427.93 480.85 427.37 484.2 427.1 C487.55 426.83 489.52 426.33 492.2 426.5 C494.88 426.67 498.45 427.33 500.3 428.1 C502.15 428.87 502.47 429.25 503.3 431.1 C504.13 432.95 504.72 435.17 505.3 439.2 C505.88 443.23 506.28 449.25 506.8 455.3 C507.32 461.35 507.80 469.47 508.4 475.5 C509.00 481.53 509.33 487.13 510.4 491.5 C511.47 495.87 513.08 498.30 514.8 501.7 C516.52 505.10 519.00 509.47 520.7 511.9 C522.40 514.33 523.55 515.33 525.0 516.3 C526.45 517.27 527.68 517.95 529.4 517.7 C531.12 517.45 533.35 515.88 535.3 514.8 C537.25 513.72 539.40 512.12 541.1 511.2 C542.80 510.28 543.80 509.67 545.5 509.3 C547.20 508.93 549.12 509.18 551.3 509.0 C553.48 508.82 556.17 508.82 558.6 508.2 C561.03 507.58 563.22 506.50 565.9 505.3 C568.58 504.10 571.78 502.70 574.7 501.0 C577.62 499.30 581.27 496.68 583.4 495.1 C585.53 493.52 586.82 492.10 587.5 491.5" fill="none" stroke="#99d6f2" stroke-width="1.60" stroke-linejoin="round" stroke-linecap="butt" />
<path d="M346.4 455.3 C349.03 455.13 356.22 454.63 362.2 454.3 C368.18 453.97 375.58 453.47 382.3 453.3 C389.02 453.13 395.78 453.30 402.5 453.3 C409.22 453.30 415.88 453.40 422.6 453.3 C429.32 453.20 436.08 452.70 442.8 452.7 C449.52 452.70 458.02 453.30 462.9 453.3 C467.78 453.30 468.55 452.80 472.1 452.7 C475.65 452.60 480.17 452.60 484.2 452.7 C488.23 452.80 493.45 452.87 496.3 453.3 C499.15 453.73 499.97 454.30 501.3 455.3 C502.63 456.30 503.38 455.93 504.3 459.3 C505.22 462.67 505.95 468.78 506.8 475.5 C507.65 482.22 508.80 494.75 509.4 499.6 C510.00 504.45 509.50 502.30 510.4 504.6 C511.30 506.90 513.08 510.60 514.8 513.4 C516.52 516.20 519.00 519.47 520.7 521.4 C522.40 523.33 523.55 524.20 525.0 525.0 C526.45 525.80 527.68 526.25 529.4 526.2 C531.12 526.15 533.35 525.33 535.3 524.7 C537.25 524.07 539.17 523.00 541.1 522.4 C543.03 521.80 544.72 521.15 546.9 521.1 C549.08 521.05 551.77 522.17 554.2 522.1 C556.63 522.03 558.82 521.30 561.5 520.7 C564.18 520.10 567.37 519.37 570.3 518.5 C573.23 517.63 576.23 516.55 579.1 515.5 C581.97 514.45 586.10 512.75 587.5 512.2" fill="none" stroke="#e8c430" stroke-width="1.60" stroke-linejoin="round" stroke-linecap="butt" />
<path d="M346.4 501.7 C349.03 501.77 356.22 501.87 362.2 502.1 C368.18 502.33 375.58 502.77 382.3 503.1 C389.02 503.43 395.78 503.73 402.5 504.1 C409.22 504.47 415.88 504.97 422.6 505.3 C429.32 505.63 436.08 505.80 442.8 506.1 C449.52 506.40 458.02 506.90 462.9 507.1 C467.78 507.30 468.55 507.10 472.1 507.3 C475.65 507.50 480.17 508.07 484.2 508.3 C488.23 508.53 493.28 508.30 496.3 508.7 C499.32 509.10 500.80 509.52 502.3 510.7 C503.80 511.88 504.43 514.38 505.3 515.8 C506.17 517.22 506.77 515.95 507.5 519.2 C508.23 522.45 508.72 531.90 509.7 535.3 C510.68 538.70 511.82 538.15 513.4 539.6 C514.98 541.05 517.27 542.53 519.2 544.0 C521.13 545.47 523.05 547.55 525.0 548.4 C526.95 549.25 528.70 549.22 530.9 549.1 C533.10 548.98 535.77 548.07 538.2 547.7 C540.63 547.33 543.07 546.90 545.5 546.9 C547.93 546.90 550.37 547.57 552.8 547.7 C555.23 547.83 557.43 547.88 560.1 547.7 C562.77 547.52 565.88 547.02 568.8 546.6 C571.72 546.18 574.48 545.75 577.6 545.2 C580.72 544.65 585.85 543.62 587.5 543.3" fill="none" stroke="#000000" stroke-width="1.60" stroke-linejoin="round" stroke-linecap="butt" stroke-dasharray="3.20 2.80"/>
<path d="M346.4 481.9 C349.03 481.77 356.22 481.33 362.2 481.1 C368.18 480.87 375.58 480.60 382.3 480.5 C389.02 480.40 395.78 480.50 402.5 480.5 C409.22 480.50 415.88 480.43 422.6 480.5 C429.32 480.57 436.08 480.83 442.8 480.9 C449.52 480.97 458.02 480.90 462.9 480.9 C467.78 480.90 468.55 480.87 472.1 480.9 C475.65 480.93 480.17 481.00 484.2 481.1 C488.23 481.20 493.45 481.10 496.3 481.5 C499.15 481.90 499.90 482.15 501.3 483.5 C502.70 484.85 503.68 485.90 504.7 489.6 C505.72 493.30 506.68 500.28 507.4 505.7 C508.12 511.12 507.77 518.38 509.0 522.1 C510.23 525.82 512.85 525.93 514.8 528.0 C516.75 530.07 519.00 532.80 520.7 534.5 C522.40 536.20 523.55 537.35 525.0 538.2 C526.45 539.05 527.68 539.60 529.4 539.6 C531.12 539.60 533.10 539.05 535.3 538.2 C537.50 537.35 540.42 535.30 542.6 534.5 C544.78 533.70 546.47 533.47 548.4 533.4 C550.33 533.33 552.02 534.28 554.2 534.1 C556.38 533.92 558.82 533.08 561.5 532.3 C564.18 531.52 567.37 530.37 570.3 529.4 C573.23 528.43 576.23 527.47 579.1 526.5 C581.97 525.53 586.10 524.08 587.5 523.6" fill="none" stroke="#ff00ff" stroke-width="1.60" stroke-linejoin="round" stroke-linecap="butt" />
<path d="M346.4 506.1 C349.03 505.97 356.22 505.53 362.2 505.3 C368.18 505.07 375.58 504.87 382.3 504.7 C389.02 504.53 395.78 504.40 402.5 504.3 C409.22 504.20 415.88 504.20 422.6 504.1 C429.32 504.00 436.08 503.83 442.8 503.7 C449.52 503.57 458.02 503.47 462.9 503.3 C467.78 503.13 468.55 502.87 472.1 502.7 C475.65 502.53 480.17 502.23 484.2 502.3 C488.23 502.37 493.28 502.70 496.3 503.1 C499.32 503.50 500.80 503.60 502.3 504.7 C503.80 505.80 504.28 505.83 505.3 509.7 C506.32 513.57 507.78 523.15 508.4 527.9 C509.02 532.65 508.17 535.27 509.0 538.2 C509.83 541.13 511.70 543.43 513.4 545.5 C515.10 547.57 517.27 549.27 519.2 550.6 C521.13 551.93 523.05 552.90 525.0 553.5 C526.95 554.10 528.70 554.45 530.9 554.2 C533.10 553.95 535.77 552.77 538.2 552.0 C540.63 551.23 543.07 549.92 545.5 549.6 C547.93 549.28 550.37 550.30 552.8 550.1 C555.23 549.90 557.43 549.05 560.1 548.4 C562.77 547.75 565.88 546.93 568.8 546.2 C571.72 545.47 574.48 544.85 577.6 544.0 C580.72 543.15 585.85 541.58 587.5 541.1" fill="none" stroke="#ff00ff" stroke-width="1.60" stroke-linejoin="round" stroke-linecap="butt" stroke-dasharray="3.20 2.80"/>
<path d="M346.4 518.4 C349.03 518.30 356.22 518.07 362.2 517.8 C368.18 517.53 375.58 517.13 382.3 516.8 C389.02 516.47 395.78 516.07 402.5 515.8 C409.22 515.53 415.88 515.37 422.6 515.2 C429.32 515.03 436.08 514.97 442.8 514.8 C449.52 514.63 458.02 514.37 462.9 514.2 C467.78 514.03 468.55 513.87 472.1 513.8 C475.65 513.73 480.17 513.70 484.2 513.8 C488.23 513.90 493.28 514.07 496.3 514.4 C499.32 514.73 500.80 514.90 502.3 515.8 C503.80 516.70 504.28 516.45 505.3 519.8 C506.32 523.15 507.55 531.62 508.4 535.9 C509.25 540.18 509.08 542.45 510.4 545.5 C511.72 548.55 514.35 551.90 516.3 554.2 C518.25 556.50 519.92 558.08 522.1 559.3 C524.28 560.52 527.20 561.37 529.4 561.5 C531.60 561.63 533.10 560.70 535.3 560.1 C537.50 559.50 540.17 558.35 542.6 557.9 C545.03 557.45 547.47 557.40 549.9 557.4 C552.33 557.40 554.77 558.18 557.2 557.9 C559.63 557.62 561.83 556.43 564.5 555.7 C567.17 554.97 570.28 554.28 573.2 553.5 C576.12 552.72 579.62 551.65 582.0 551.0 C584.38 550.35 586.58 549.83 587.5 549.6" fill="none" stroke="#ff00ff" stroke-width="1.60" stroke-linejoin="round" stroke-linecap="butt" stroke-dasharray="5.12 2.32 1.12 2.32"/></g>
<path d="M345.6 423.1 H588.0 M345.6 611.8 H588.0" stroke="#9a9a9a" stroke-width="1.7" fill="none"/>
<path d="M346.2 611.7 h-4.0 M587.4 611.7 h4.0 M346.2 604.2 h-2.2 M587.4 604.2 h2.2 M346.2 596.6 h-2.2 M587.4 596.6 h2.2 M346.2 589.1 h-2.2 M587.4 589.1 h2.2 M346.2 581.5 h-2.2 M587.4 581.5 h2.2 M346.2 574.0 h-4.0 M587.4 574.0 h4.0 M346.2 566.4 h-2.2 M587.4 566.4 h2.2 M346.2 558.9 h-2.2 M587.4 558.9 h2.2 M346.2 551.3 h-2.2 M587.4 551.3 h2.2 M346.2 543.8 h-2.2 M587.4 543.8 h2.2 M346.2 536.3 h-4.0 M587.4 536.3 h4.0 M346.2 528.7 h-2.2 M587.4 528.7 h2.2 M346.2 521.2 h-2.2 M587.4 521.2 h2.2 M346.2 513.6 h-2.2 M587.4 513.6 h2.2 M346.2 506.1 h-2.2 M587.4 506.1 h2.2 M346.2 498.5 h-4.0 M587.4 498.5 h4.0 M346.2 491.0 h-2.2 M587.4 491.0 h2.2 M346.2 483.5 h-2.2 M587.4 483.5 h2.2 M346.2 475.9 h-2.2 M587.4 475.9 h2.2 M346.2 468.4 h-2.2 M587.4 468.4 h2.2 M346.2 460.8 h-4.0 M587.4 460.8 h4.0 M346.2 453.3 h-2.2 M587.4 453.3 h2.2 M346.2 445.7 h-2.2 M587.4 445.7 h2.2 M346.2 438.2 h-2.2 M587.4 438.2 h2.2 M346.2 430.6 h-2.2 M587.4 430.6 h2.2 M346.2 423.1 h-4.0 M587.4 423.1 h4.0 M346.2 611.8 v3.8 M350.2 611.8 v2.2 M354.2 611.8 v2.2 M358.3 611.8 v2.2 M362.3 611.8 v2.2 M366.3 611.8 v3.8 M370.3 611.8 v2.2 M374.3 611.8 v2.2 M378.4 611.8 v2.2 M382.4 611.8 v2.2 M386.4 611.8 v3.8 M390.4 611.8 v2.2 M394.4 611.8 v2.2 M398.5 611.8 v2.2 M402.5 611.8 v2.2 M406.5 611.8 v3.8 M410.5 611.8 v2.2 M414.5 611.8 v2.2 M418.6 611.8 v2.2 M422.6 611.8 v2.2 M426.6 611.8 v3.8 M430.6 611.8 v2.2 M434.6 611.8 v2.2 M438.7 611.8 v2.2 M442.7 611.8 v2.2 M446.7 611.8 v3.8 M450.7 611.8 v2.2 M454.7 611.8 v2.2 M458.8 611.8 v2.2 M462.8 611.8 v2.2 M466.8 611.8 v3.8 M470.8 611.8 v2.2 M474.8 611.8 v2.2 M478.9 611.8 v2.2 M482.9 611.8 v2.2 M486.9 611.8 v3.8 M490.9 611.8 v2.2 M494.9 611.8 v2.2 M499.0 611.8 v2.2 M503.0 611.8 v2.2 M507.0 611.8 v3.8 M511.0 611.8 v2.2 M515.0 611.8 v2.2 M519.1 611.8 v2.2 M523.1 611.8 v2.2 M527.1 611.8 v3.8 M531.1 611.8 v2.2 M535.1 611.8 v2.2 M539.2 611.8 v2.2 M543.2 611.8 v2.2 M547.2 611.8 v3.8 M551.2 611.8 v2.2 M555.2 611.8 v2.2 M559.3 611.8 v2.2 M563.3 611.8 v2.2 M567.3 611.8 v3.8 M571.3 611.8 v2.2 M575.3 611.8 v2.2 M579.4 611.8 v2.2 M583.4 611.8 v2.2 M587.4 611.8 v3.8" stroke="#505050" stroke-width="1.15" fill="none"/>
<path d="M346.2 422.3 V612.6" stroke="#5c5c5c" stroke-width="1.25" fill="none"/>
<path d="M587.4 422.3 V612.6" stroke="#5c5c5c" stroke-width="1.25" fill="none"/>
<text transform="translate(340.00 613.90) scale(0.950 1)" font-size="8.20" text-anchor="end" stroke-width="0.15" >0.00</text>
<text transform="translate(340.00 576.18) scale(0.950 1)" font-size="8.20" text-anchor="end" stroke-width="0.15" >0.02</text>
<text transform="translate(340.00 538.46) scale(0.950 1)" font-size="8.20" text-anchor="end" stroke-width="0.15" >0.04</text>
<text transform="translate(340.00 500.74) scale(0.950 1)" font-size="8.20" text-anchor="end" stroke-width="0.15" >0.06</text>
<text transform="translate(340.00 463.02) scale(0.950 1)" font-size="8.20" text-anchor="end" stroke-width="0.15" >0.08</text>
<text transform="translate(340.00 425.30) scale(0.950 1)" font-size="8.20" text-anchor="end" stroke-width="0.15" >0.10</text>
<text transform="translate(346.20 624.10) scale(0.960 1)" font-size="8.20" text-anchor="middle" stroke-width="0.15" >1.9</text>
<text transform="translate(366.30 624.10) scale(0.960 1)" font-size="8.20" text-anchor="middle" stroke-width="0.15" >2.0</text>
<text transform="translate(386.40 624.10) scale(0.960 1)" font-size="8.20" text-anchor="middle" stroke-width="0.15" >2.1</text>
<text transform="translate(406.50 624.10) scale(0.960 1)" font-size="8.20" text-anchor="middle" stroke-width="0.15" >2.2</text>
<text transform="translate(426.60 624.10) scale(0.960 1)" font-size="8.20" text-anchor="middle" stroke-width="0.15" >2.3</text>
<text transform="translate(446.70 624.10) scale(0.960 1)" font-size="8.20" text-anchor="middle" stroke-width="0.15" >2.4</text>
<text transform="translate(466.80 624.10) scale(0.960 1)" font-size="8.20" text-anchor="middle" stroke-width="0.15" >2.5</text>
<text transform="translate(486.90 624.10) scale(0.960 1)" font-size="8.20" text-anchor="middle" stroke-width="0.15" >2.6</text>
<text transform="translate(507.00 624.10) scale(0.960 1)" font-size="8.20" text-anchor="middle" stroke-width="0.15" >2.7</text>
<text transform="translate(527.10 624.10) scale(0.960 1)" font-size="8.20" text-anchor="middle" stroke-width="0.15" >2.8</text>
<text transform="translate(547.20 624.10) scale(0.960 1)" font-size="8.20" text-anchor="middle" stroke-width="0.15" >2.9</text>
<text transform="translate(567.30 624.10) scale(0.960 1)" font-size="8.20" text-anchor="middle" stroke-width="0.15" >3.0</text>
<text transform="translate(587.40 624.10) scale(0.960 1)" font-size="8.20" text-anchor="middle" stroke-width="0.15" >3.1</text>
<text x="472.4" y="640.3" font-size="15.80" text-anchor="middle" stroke-width="0.30" >Wavelength (µm)</text>
<text x="0.0" y="0.0" font-size="15.80" text-anchor="middle" stroke-width="0.30" transform="translate(316.3 524.7) rotate(-90)">Reflectance</text>
<text x="302.7" y="410.0" font-size="15.80" text-anchor="start" stroke-width="0.30" >(c)</text>
<rect x="596.3" y="502.3" width="87.9" height="110.2" fill="#fff" stroke="#707070" stroke-width="1"/>
<path d="M597.2 509.0 H619.9" stroke="#595959" stroke-width="1.9" />
<text x="622.8" y="512.4" font-size="9.75" text-anchor="start" stroke-width="0.18" >Tap-0</text>
<path d="M597.2 521.1 H619.9" stroke="#00c000" stroke-width="1.9" />
<text x="622.8" y="524.5" font-size="9.75" text-anchor="start" stroke-width="0.18" >Tap-10</text>
<path d="M597.2 533.2 H619.9" stroke="#0000ff" stroke-width="1.9" />
<text x="622.8" y="536.6" font-size="9.75" text-anchor="start" stroke-width="0.18" >Tap-20</text>
<path d="M597.2 545.3 H619.9" stroke="#99d6f2" stroke-width="1.9" />
<text x="622.8" y="548.7" font-size="9.75" text-anchor="start" stroke-width="0.18" >Tap-40</text>
<path d="M597.2 557.4 H619.9" stroke="#e8c430" stroke-width="1.9" />
<text x="622.8" y="560.8" font-size="9.75" text-anchor="start" stroke-width="0.18" >Hand-press</text>
<path d="M597.2 569.5 H619.9" stroke="#000000" stroke-width="1.9" stroke-dasharray="3.3 2.8"/>
<text x="622.8" y="572.9" font-size="9.75" text-anchor="start" stroke-width="0.18" >Press-500 kg</text>
<path d="M597.2 581.6 H619.9" stroke="#ff00ff" stroke-width="1.9" />
<text x="622.8" y="585.0" font-size="9.75" text-anchor="start" stroke-width="0.18" >Scraped</text>
<path d="M597.2 593.7 H619.9" stroke="#ff00ff" stroke-width="1.9" stroke-dasharray="3.3 2.8"/>
<text x="622.8" y="597.1" font-size="9.75" text-anchor="start" stroke-width="0.18" >Light-airfall</text>
<path d="M597.2 605.8 H619.9" stroke="#ff00ff" stroke-width="1.9" stroke-dasharray="4.8 2.3 1.3 2.2"/>
<text x="622.8" y="609.2" font-size="9.75" text-anchor="start" stroke-width="0.18" >Heavier-airfall</text>
</svg>
</body></html>
